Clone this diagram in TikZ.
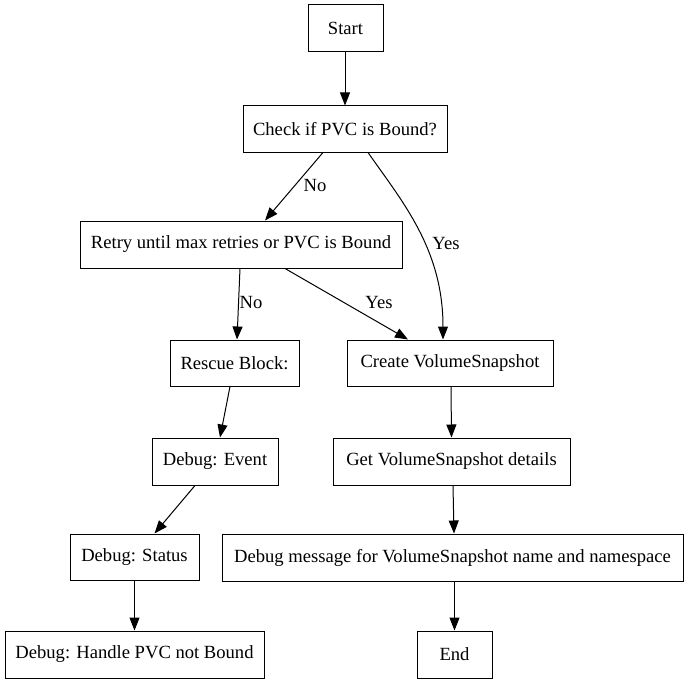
\documentclass[tikz,border=0pt]{standalone}
\usepackage{fontspec}
\setmainfont{Liberation Serif}
\usetikzlibrary{arrows.meta}
\begin{document}
\begin{tikzpicture}[x=1pt,y=-1pt,
  box/.style={draw,line width=1pt,rectangle,inner sep=0pt,font=\fontsize{18.6}{22}\selectfont},
  arr/.style={line width=1pt,-{Triangle[length=13pt,width=10pt]}},
  lbl/.style={font=\fontsize{18.6}{22}\selectfont}]
\useasboundingbox (0,0) rectangle (689,685);
\node[box,minimum width=75pt,minimum height=47pt] (start) at (345.5,28.5) {Start};
\node[box,minimum width=204pt,minimum height=46pt] (check) at (345,129) {Check if PVC is Bound?};
\node[box,minimum width=322pt,minimum height=47pt] (retry) at (241,244.5) {Retry until max retries or PVC is Bound};
\node[box,minimum width=129pt,minimum height=46pt] (rescue) at (234.5,363) {Rescue Block:};
\node[box,minimum width=206pt,minimum height=46pt] (create) at (450,363) {Create VolumeSnapshot};
\node[box,minimum width=126pt,minimum height=47pt] (event) at (215,461.5) {Debug: Event};
\node[box,minimum width=237pt,minimum height=47pt] (get) at (451.5,461.5) {Get VolumeSnapshot details};
\node[box,minimum width=129pt,minimum height=46pt] (status) at (134.5,557) {Debug: Status};
\node[box,minimum width=461pt,minimum height=47pt] (msg) at (452.5,557.5) {Debug message for VolumeSnapshot name and namespace};
\node[box,minimum width=259pt,minimum height=47pt] (handle) at (134.5,654.5) {Debug: Handle PVC not Bound};
\node[box,minimum width=75pt,minimum height=47pt] (end) at (454.5,654.5) {End};

\draw[arr] ([xshift=-0.5pt]start.south) -- ([xshift=0pt]check.north);
\draw[arr] ([xshift=-22pt]check.south) -- ([xshift=24pt]retry.north);
\node[lbl] (no1) at (315,186) {No};
\draw[arr] ([xshift=23pt]check.south) .. controls +(35,50) and +(0,-90) .. ([xshift=-7pt]create.north);
\node[lbl] (yes1) at (446,244) {Yes};
\draw[arr] ([xshift=-1pt]retry.south) -- ([xshift=2.5pt]rescue.north);
\node[lbl] (no2) at (251,303) {No};
\draw[arr] ([xshift=44pt]retry.south) -- ([xshift=-42pt]create.north);
\node[lbl] (yes2) at (379,303) {Yes};
\draw[arr] ([xshift=-4.5pt]rescue.south) -- ([xshift=5pt]event.north);
\draw[arr] ([xshift=1pt]create.south) -- ([xshift=0pt]get.north);
\draw[arr] ([xshift=-20pt]event.south) -- ([xshift=20pt]status.north);
\draw[arr] ([xshift=1.5pt]get.south) -- ([xshift=1.5pt]msg.north);
\draw[arr] (status.south) -- (handle.north);
\draw[arr] ([xshift=2pt]msg.south) -- (end.north);
\end{tikzpicture}
\end{document}
